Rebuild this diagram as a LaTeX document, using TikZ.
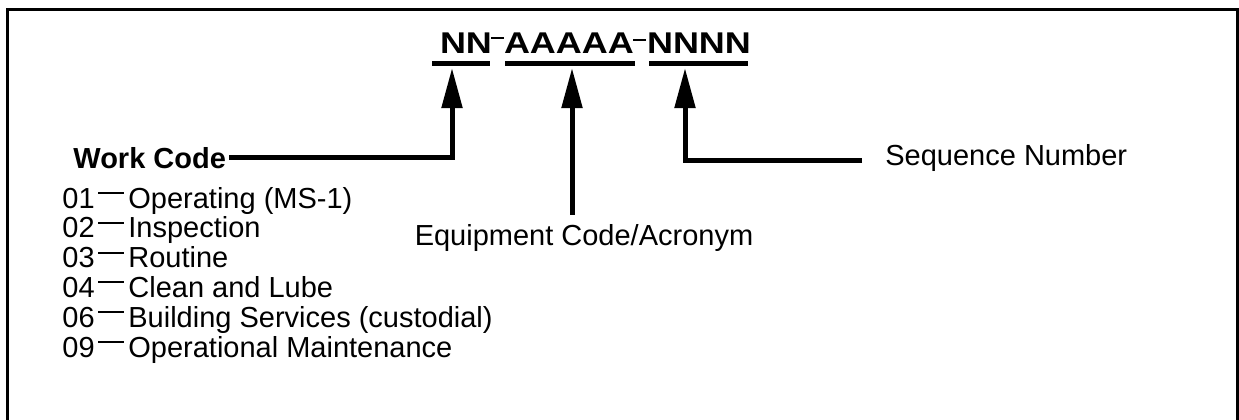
\documentclass[tikz,border=0pt]{standalone}
\usepackage{fontspec}
\setmainfont{Liberation Sans}
\newfontfamily\codefont{Liberation Sans Bold}[FakeStretch=1.2]
\usepackage{tikz}
\usetikzlibrary{arrows.meta, positioning, calc}

\begin{document}
\begin{tikzpicture}[
    x=0.5pt, y=-0.5pt,
    label/.style = {inner sep=0pt, font=\fontsize{14.5}{17}\selectfont},
    codepart/.style = {inner sep=0pt, font=\codefont\fontsize{15}{18}\selectfont},
    bar/.style = {line width=2.5pt},
    pointer/.style = {line width=2.5pt, -{Triangle[length=20pt, width=10pt]}},
    tick/.style = {line width=1pt}
]
\useasboundingbox (0,0) rectangle (1239,419);
\clip (0,0) rectangle (1239,419);

% frame
\draw [line width=1.5pt] (7,9) rectangle (1237,440);

% code pattern
\node (nn) [codepart, anchor=base] at (466,53) {NN};
\node (aa) [codepart, anchor=base] at (569,53) {AAAAA};
\node (nnnn) [codepart, anchor=base] at (699,53) {NNNN};
\draw [tick] (491,38) -- (504,38);
\draw [tick] (633,40) -- (646,40);

\draw [bar] (432,63.5) -- (490,63.5);
\draw [bar] (505,63.5) -- (635,63.5);
\draw [bar] (649,63.5) -- (748,63.5);

\coordinate (nntip) at (452,68);
\coordinate (aatip) at (572,68);
\coordinate (nnnntip) at (685,68);

% labels
\node (work) [label, font=\bfseries\fontsize{14.5}{17}\selectfont, anchor=base west] at (73,168) {Work Code};
\node (equip) [label, anchor=base] at (584,245) {Equipment Code/Acronym};
\node (seq) [label, anchor=base west] at (885,165) {Sequence Number};

\draw [pointer] (work.east) ++(3,0) -| (nntip);
\draw [pointer] (equip.north -| aatip) ++(0,-9) -- (aatip);
\draw [pointer] (seq.west) ++(-23,3) -| (nnnntip);

% work code list
\foreach \code/\desc [count=\k from 0] in {01/Operating (MS-1), 02/Inspection, 03/Routine, 04/Clean and Lube, 06/Building Services (custodial), 09/Operational Maintenance}{
    \node (num\k) [label, anchor=base west] at (62,208+29.8*\k) {\code};
    \node (item\k) [label, anchor=base west] at (128,208+29.8*\k) {\desc};
    \draw [tick] (num\k.base east) ++(3,-15) -- ++(26,0);
}

\end{tikzpicture}
\end{document}
